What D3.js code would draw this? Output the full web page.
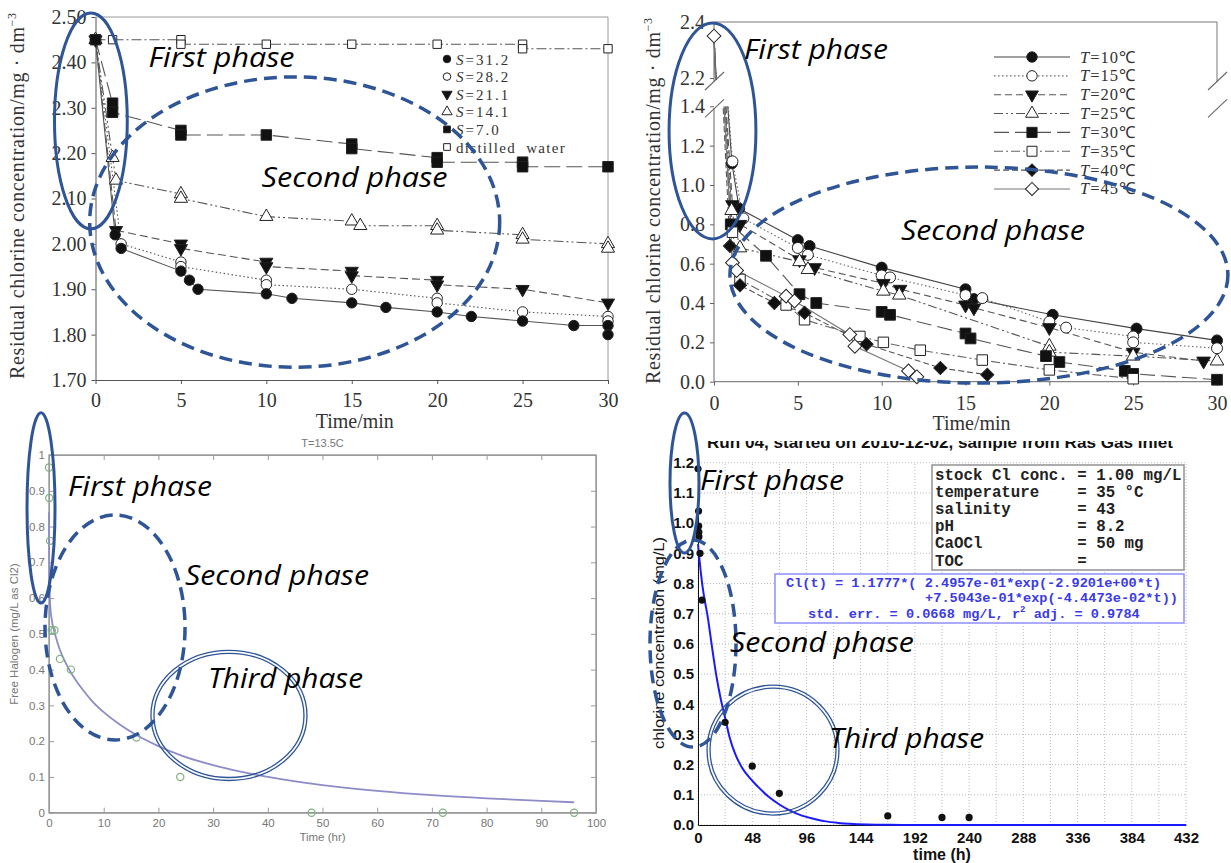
<!DOCTYPE html>
<html lang="en">
<head>
<meta charset="UTF-8">
<title>Chlorine decay phases</title>
<script src="https://cdn.jsdelivr.net/npm/d3@7"></script>
<style>
  body { margin: 0; background: #fff; }
  svg { display: block; }
</style>
</head>
<body>
<svg id="chart" width="1231" height="863"></svg>
<script>
// ---------- Panel A: effect of salinity (time in min, mg/dm3) ----------
const aTimeTicks = [0, 5, 10, 15, 20, 25, 30];
const aConcTicks = [1.70, 1.80, 1.90, 2.00, 2.10, 2.20, 2.30, 2.40, 2.50];
const aLegend = ["31.2", "28.2", "21.1", "14.1", "7.0", "distilled  water"];
const s31_2 = [[0,2.45],[1.15,2.02],[1.5,1.99],[5,1.94],[5.5,1.92],[6,1.90],[10,1.89],[11.5,1.88],[15,1.87],[17,1.86],[20,1.85],[22,1.84],[25,1.83],[28,1.82],[30,1.82],[30,1.80]];
const s28_2 = [[0,2.45],[1.5,2.00],[5,1.96],[5,1.95],[10,1.92],[10,1.91],[15,1.90],[20,1.88],[20,1.87],[25,1.85],[30,1.84],[30,1.83]];
const s21_1 = [[0,2.45],[1.2,2.03],[5,2.00],[5,1.99],[10,1.96],[10,1.95],[15,1.94],[15,1.93],[20,1.92],[20,1.91],[25,1.90],[30,1.87]];
const s14_1 = [[0,2.45],[1,2.19],[1.2,2.14],[5,2.11],[5,2.10],[10,2.06],[15,2.05],[15.5,2.04],[20,2.04],[20,2.03],[25,2.02],[25,2.01],[30,2.00],[30,1.99]];
const s7_0 = [[0,2.45],[1,2.31],[1,2.29],[5,2.25],[5,2.24],[10,2.24],[15,2.22],[15,2.21],[20,2.19],[20,2.18],[25,2.18],[25,2.17],[30,2.17]];
const sDistilled = [[0,2.45],[1,2.45],[5,2.45],[5,2.44],[10,2.44],[15,2.44],[20,2.44],[25,2.44],[25,2.43],[30,2.43]];

// ---------- Panel B: effect of temperature ----------
const bTimeTicks = [0, 5, 10, 15, 20, 25, 30];
const bLowTicks = [0, 0.2, 0.4, 0.6, 0.8, 1.0, 1.2, 1.4];
const bHighTicks = [2.2, 2.4];
const bLegend = ["10", "15", "20", "25", "30", "35", "40", "45"];
const bInitialConc = 2.35;
const t10 = [[1.07,1.11],[1.5,0.88],[5,0.72],[5.7,0.69],[10,0.58],[15,0.47],[15.5,0.42],[20.2,0.34],[25.2,0.27],[30,0.21]];
const t15 = [[1.1,1.12],[1.75,0.83],[5,0.68],[5.6,0.645],[10,0.54],[10.5,0.53],[15,0.44],[16,0.425],[20,0.305],[21,0.275],[25,0.23],[25,0.20],[30,0.17]];
const t20 = [[1.1,0.90],[1.55,0.80],[5.1,0.62],[6,0.58],[10.1,0.50],[11.1,0.47],[15,0.39],[15.5,0.375],[20,0.275],[25,0.15],[29.2,0.105]];
const t25 = [[1.05,0.87],[1.55,0.68],[5.1,0.61],[5.6,0.57],[10.1,0.46],[11.05,0.44],[20,0.18],[20,0.15],[25,0.13],[30,0.105]];
const t30 = [[1,0.80],[3.1,0.64],[5.1,0.445],[6.1,0.40],[10,0.355],[10.5,0.34],[15,0.245],[15.3,0.22],[19.8,0.13],[20.6,0.10],[24.5,0.055],[25,0.04],[30,0.01]];
const t35 = [[1.1,0.76],[1.55,0.52],[4.3,0.39],[5.4,0.315],[8.7,0.23],[10.1,0.20],[12.3,0.16],[16,0.11],[20,0.06],[25,0.015]];
const t40 = [[0.95,0.69],[1.55,0.49],[3.6,0.40],[5.4,0.35],[9.1,0.19],[13.5,0.07],[16.3,0.035]];
const t45 = [[1.1,0.605],[1.35,0.565],[4.3,0.435],[4.8,0.41],[8.1,0.24],[8.4,0.18],[11.6,0.055],[12.1,0.025]];

// ---------- Panel C: free halogen, T=13.5C ----------
const cTimeTicks = [0, 10, 20, 30, 40, 50, 60, 70, 80, 90, 100];
const cHaloTicks = [0, 0.1, 0.2, 0.3, 0.4, 0.5, 0.6, 0.7, 0.8, 0.9, 1];
const cTime = [0, 0.05, 0.2, 0.5, 1, 2, 4, 16, 24, 48, 72, 96];
const cHalo = [0.965, 0.88, 0.76, 0.51, 0.51, 0.43, 0.40, 0.21, 0.10, 0, 0, 0];
const cFitTime = [0, 0.03, 0.1, 0.25, 0.5, 1, 1.5, 2, 3, 4, 5, 6, 8, 10, 13, 16, 20, 24, 30, 35, 40, 50, 60, 70, 80, 90, 96];
const cFitHalo = [0.84, 0.72, 0.63, 0.575, 0.54, 0.505, 0.478, 0.455, 0.42, 0.392, 0.368, 0.347, 0.31, 0.281, 0.246, 0.217, 0.186, 0.161, 0.133, 0.115, 0.1, 0.077, 0.061, 0.049, 0.04, 0.033, 0.029];

// ---------- Panel D: chlorine concentration, run 04 ----------
const dTimeTicks = [0, 48, 96, 144, 192, 240, 288, 336, 384, 432];
const dConcTicks = [0, 0.1, 0.2, 0.3, 0.4, 0.5, 0.6, 0.7, 0.8, 0.9, 1.0, 1.1, 1.2];
const dTime = [0, 0.5, 0.6, 0.7, 0.8, 1.8, 3.5, 24, 48, 72, 168, 216, 240];
const dChlor = [1.18, 1.04, 0.99, 0.97, 0.955, 0.90, 0.745, 0.34, 0.195, 0.105, 0.03, 0.025, 0.025];
const dFitTime = [0, 1, 4, 9, 12, 16, 20, 24, 28, 33, 39, 46, 53, 62, 72, 82, 92, 103, 113, 124, 134, 150, 170, 200, 432];
const dFitChlor = [0.93, 0.89, 0.79, 0.68, 0.60, 0.50, 0.42, 0.355, 0.29, 0.235, 0.19, 0.155, 0.127, 0.095, 0.068, 0.047, 0.031, 0.02, 0.012, 0.007, 0.004, 0.0015, 0.0005, 0, 0];
const dInfo = ["stock Cl conc. = 1.00 mg/L", "temperature    = 35 °C", "salinity       = 43", "pH             = 8.2", "CaOCl          = 50 mg", "TOC            ="];

const serif = '"Liberation Serif", "Times New Roman", serif';
const sans = '"Liberation Sans", Arial, sans-serif';
const mono = '"Liberation Mono", "Courier New", monospace';
const phaseFont = '"Open Sans", "Noto Sans", sans-serif';
const annBlue = "#2f5597";

const svg = d3.select("#chart");
const defs = svg.append("defs");

// marker shapes
function symbolPath(shape, size) {
  const types = { circle: d3.symbolCircle, square: d3.symbolSquare, diamond: d3.symbolSquare,
                  triangle: d3.symbolTriangle, triangleDown: d3.symbolTriangle };
  return d3.symbol().type(types[shape]).size(size)();
}
function rot(shape) { return shape === "triangleDown" ? 180 : shape === "diamond" ? 45 : 0; }

function drawMarkers(g, pts, x, y, st, size) {
  g.append("g").selectAll("path").data(pts).join("path")
    .attr("d", symbolPath(st.shape, size || st.size))
    .attr("transform", d => `translate(${x(d[0])},${y(d[1])}) rotate(${rot(st.shape)})`)
    .attr("fill", st.filled ? "#111" : "#fff")
    .attr("stroke", "#222").attr("stroke-width", 1);
}

function styleAxis(ax, font, size, textColor, lineColor) {
  ax.selectAll("text").attr("font-family", font).attr("font-size", size).attr("fill", textColor);
  ax.selectAll("line").attr("stroke", lineColor);
  ax.select(".domain").attr("stroke", lineColor);
}

// phase annotations, placed in each panel's data space
function phaseEllipse(g, x, y, cx, cy, rx, ry, kind) {
  const px = x(cx), py = y(cy);
  const prx = Math.abs(x(cx + rx) - px), pry = Math.abs(y(cy + ry) - py);
  if (kind === "double") {
    [0, 3].forEach(o => g.append("ellipse").attr("cx", px).attr("cy", py)
      .attr("rx", prx - o).attr("ry", pry - o)
      .attr("fill", "none").attr("stroke", annBlue).attr("stroke-width", 1.3));
    return;
  }
  g.append("ellipse").attr("cx", px).attr("cy", py).attr("rx", prx).attr("ry", pry)
    .attr("fill", "none").attr("stroke", annBlue)
    .attr("stroke-width", kind === "dashed" ? 3.5 : 3)
    .attr("stroke-dasharray", kind === "dashed" ? "13,7" : null);
}
function phaseText(g, x, y, tx, ty, label, width) {
  g.append("text").attr("x", x(tx)).attr("y", y(ty))
    .attr("font-family", phaseFont).attr("font-style", "italic").attr("font-size", 27)
    .attr("textLength", width).attr("lengthAdjust", "spacingAndGlyphs")
    .text(label);
}

// ======================= Panel A =======================
const xA = d3.scaleLinear([0, 30], [95.5, 608]);
const yA = d3.scaleLinear([1.7, 2.5], [380, 17]);
const gA = svg.append("g");

gA.append("path").attr("d", `M${xA(0)},${yA(2.5)}H${xA(30)}V${yA(1.7)}`)
  .attr("fill", "none").attr("stroke", "#9a9a9a");
const axAx = gA.append("g").attr("transform", `translate(0,${yA(1.7)})`)
  .call(d3.axisBottom(xA).tickValues(aTimeTicks).tickSize(4).tickSizeOuter(0).tickPadding(9));
styleAxis(axAx, serif, 20, "#333", "#555");
const axAy = gA.append("g").attr("transform", `translate(${xA(0)},0)`)
  .call(d3.axisLeft(yA).tickValues(aConcTicks).tickFormat(d3.format(".2f")).tickSize(4).tickSizeOuter(0).tickPadding(5));
styleAxis(axAy, serif, 20, "#333", "#555");

gA.append("text").attr("x", (xA(0) + xA(30)) / 2 + 3).attr("y", 428).attr("text-anchor", "middle")
  .attr("font-family", serif).attr("font-size", 20).attr("fill", "#333").text("Time/min");
const labA = gA.append("text").attr("transform", "translate(24,196) rotate(-90)")
  .attr("text-anchor", "middle").attr("font-family", serif).attr("font-size", 20).attr("fill", "#333")
  .attr("textLength", 366).attr("lengthAdjust", "spacing");
labA.append("tspan").text("Residual  chlorine  concentration/mg · dm");
labA.append("tspan").attr("font-size", 12).attr("dy", -8).text("−3");

const aSeries = [s31_2, s28_2, s21_1, s14_1, s7_0, sDistilled];
const aStyles = [
  { shape: "circle", filled: true, size: 85, dash: null },
  { shape: "circle", filled: false, size: 85, dash: "1.5,2.5" },
  { shape: "triangleDown", filled: true, size: 75, dash: "8,4" },
  { shape: "triangle", filled: false, size: 75, dash: "10,3,2,3,2,3" },
  { shape: "square", filled: true, size: 110, dash: "16,6" },
  { shape: "square", filled: false, size: 70, dash: "10,3,2,3" }
];
const lineA = d3.line().x(d => xA(d[0])).y(d => yA(d[1]));
aSeries.forEach((s, i) => {
  gA.append("path").attr("d", lineA(s)).attr("fill", "none")
    .attr("stroke", "#555").attr("stroke-width", 1.1).attr("stroke-dasharray", aStyles[i].dash);
});
[5, 3, 2, 1, 0, 4].forEach(i => drawMarkers(gA, aSeries[i], xA, yA, aStyles[i]));

// legend A
aLegend.forEach((name, i) => {
  const ly = 59 + i * 17.6;
  drawMarkers(gA, [[0, 0]], v => 447, v => ly, aStyles[i], 45);
  const t = gA.append("text").attr("x", 456).attr("y", ly + 5.5)
    .attr("font-family", serif).attr("font-size", 15).attr("fill", "#333").attr("letter-spacing", 2);
  if (i < 5) {
    t.append("tspan").attr("font-style", "italic").text("S");
    t.append("tspan").text("=" + name);
  } else {
    t.attr("xml:space", "preserve").style("white-space", "pre").attr("letter-spacing", 1.3).text(name);
  }
});

// ======================= Panel B =======================
const xB = d3.scaleLinear([0, 30], [714, 1217]);
const yBlow = d3.scaleLinear([0, 1.4], [381.7, 106.3]);
const yBhigh = d3.scaleLinear([2.2, 2.4], [78, 22]);
const gB = svg.append("g");

defs.append("clipPath").attr("id", "clipLow").append("rect")
  .attr("x", xB(0)).attr("y", yBlow(1.4)).attr("width", 520).attr("height", yBlow(0) - yBlow(1.4) + 8);
defs.append("clipPath").attr("id", "clipHigh").append("rect")
  .attr("x", xB(0) - 2).attr("y", yBhigh(2.4) - 6).attr("width", 520).attr("height", yBhigh(2.2) - yBhigh(2.4) + 8);

const breakHigh = yBhigh(2.2) + 3, breakLow = yBlow(1.4) + 2;
// frame: top line, right line down to the break, left axis in two parts
gB.append("path").attr("d", `M${xB(0)},${yBhigh(2.4)}H${xB(30)}V${breakHigh}`)
  .attr("fill", "none").attr("stroke", "#777");
gB.append("path").attr("d", `M${xB(0)},${yBhigh(2.4)}V${breakHigh}M${xB(0)},${breakLow}V${yBlow(0)}H${xB(30)}`)
  .attr("fill", "none").attr("stroke", "#666");
[xB(0), xB(30)].forEach(bx => [breakHigh, breakLow].forEach(by => {
  gB.append("line").attr("x1", bx - 9).attr("y1", by + 9).attr("x2", bx + 10).attr("y2", by - 9)
    .attr("stroke", "#666").attr("stroke-width", 1.1);
}));

const axBx = gB.append("g").attr("transform", `translate(0,${yBlow(0)})`)
  .call(d3.axisBottom(xB).tickValues(bTimeTicks).tickSize(4).tickSizeOuter(0).tickPadding(10));
styleAxis(axBx, serif, 20, "#333", "#666");
axBx.select(".domain").remove();
const axBy = gB.append("g").attr("transform", `translate(${xB(0)},0)`)
  .call(d3.axisLeft(yBlow).tickValues(bLowTicks).tickFormat(d3.format(".1f")).tickSize(4).tickSizeOuter(0).tickPadding(5));
styleAxis(axBy, serif, 20, "#333", "#666");
axBy.select(".domain").remove();
const axBy2 = gB.append("g").attr("transform", `translate(${xB(0)},0)`)
  .call(d3.axisLeft(yBhigh).tickValues(bHighTicks).tickFormat(d3.format(".1f")).tickSize(4).tickSizeOuter(0).tickPadding(5));
styleAxis(axBy2, serif, 20, "#333", "#666");
axBy2.select(".domain").remove();

gB.append("text").attr("x", (xB(0) + xB(30)) / 2 + 6).attr("y", 430).attr("text-anchor", "middle")
  .attr("font-family", serif).attr("font-size", 20).attr("fill", "#333").text("Time/min");
const labB = gB.append("text").attr("transform", "translate(660,201) rotate(-90)")
  .attr("text-anchor", "middle").attr("font-family", serif).attr("font-size", 20).attr("fill", "#333")
  .attr("textLength", 366).attr("lengthAdjust", "spacing");
labB.append("tspan").text("Residual  chlorine  concentration/mg · dm");
labB.append("tspan").attr("font-size", 12).attr("dy", -8).text("−3");

const bSeries = [t10, t15, t20, t25, t30, t35, t40, t45];
const bStyles = [
  { shape: "circle", filled: true, size: 95, dash: null, color: "#444" },
  { shape: "circle", filled: false, size: 95, dash: "1.5,2.5", color: "#666" },
  { shape: "triangleDown", filled: true, size: 80, dash: "7,4", color: "#555" },
  { shape: "triangle", filled: false, size: 80, dash: "9,3,2,3,2,3", color: "#555" },
  { shape: "square", filled: true, size: 115, dash: "15,6", color: "#555" },
  { shape: "square", filled: false, size: 110, dash: "9,3,2,3", color: "#666" },
  { shape: "diamond", filled: true, size: 85, dash: "6,3", color: "#555" },
  { shape: "diamond", filled: false, size: 95, dash: null, color: "#777" }
];
const lineBlow = d3.line().x(d => xB(d[0])).y(d => yBlow(d[1]));
const lineBhigh = d3.line().x(d => xB(d[0])).y(d => yBhigh(d[1]));
bSeries.forEach((s, i) => {
  const full = [[0, bInitialConc]].concat(s);
  [[lineBlow, "clipLow"], [lineBhigh, "clipHigh"]].forEach(([ln, clip]) => {
    gB.append("path").attr("d", ln(full)).attr("clip-path", `url(#${clip})`)
      .attr("fill", "none").attr("stroke", bStyles[i].color).attr("stroke-width", 1.1)
      .attr("stroke-dasharray", bStyles[i].dash);
  });
});
bSeries.forEach((s, i) => drawMarkers(gB, s, xB, yBlow, bStyles[i]));
drawMarkers(gB, [[0, bInitialConc]], xB, yBhigh, bStyles[7]);

// legend B
bLegend.forEach((name, i) => {
  const ly = 57 + i * 18.85;
  gB.append("line").attr("x1", 994).attr("x2", 1070).attr("y1", ly).attr("y2", ly)
    .attr("stroke", bStyles[i].color).attr("stroke-width", 1.1).attr("stroke-dasharray", bStyles[i].dash);
  drawMarkers(gB, [[0, 0]], v => 1032, v => ly, bStyles[i], bStyles[i].size * 0.9);
  const t = gB.append("text").attr("x", 1080).attr("y", ly + 5.5)
    .attr("font-family", serif).attr("font-size", 16.5).attr("fill", "#333").attr("letter-spacing", 1);
  t.append("tspan").attr("font-style", "italic").text("T");
  t.append("tspan").text("=" + name + "℃");
});

// ======================= Panel C =======================
const xC = d3.scaleLinear([0, 100], [49, 596]);
const yC = d3.scaleLinear([0, 1], [812.7, 455]);
const gC = svg.append("g");

gC.append("rect").attr("x", xC(0)).attr("y", yC(1)).attr("width", xC(100) - xC(0)).attr("height", yC(0) - yC(1))
  .attr("fill", "none").attr("stroke", "#9a9a9a").attr("stroke-width", 1.4);
const axCx = gC.append("g").attr("transform", `translate(0,${yC(0)})`)
  .call(d3.axisBottom(xC).tickValues(cTimeTicks).tickSize(-5).tickSizeOuter(0).tickPadding(6));
styleAxis(axCx, sans, 11.5, "#777", "#9a9a9a");
const axCy = gC.append("g").attr("transform", `translate(${xC(0)},0)`)
  .call(d3.axisLeft(yC).tickValues(cHaloTicks).tickFormat(d3.format("~g")).tickSize(-5).tickSizeOuter(0).tickPadding(4));
styleAxis(axCy, sans, 11.5, "#777", "#9a9a9a");
gC.append("g").attr("transform", `translate(0,${yC(1)})`)
  .call(d3.axisTop(xC).tickValues(cTimeTicks).tickSize(-5).tickSizeOuter(0).tickFormat(""))
  .call(a => styleAxis(a, sans, 11, "#777", "#9a9a9a"));
gC.append("g").attr("transform", `translate(${xC(100)},0)`)
  .call(d3.axisRight(yC).tickValues(cHaloTicks).tickSize(-5).tickSizeOuter(0).tickFormat(""))
  .call(a => styleAxis(a, sans, 11, "#777", "#9a9a9a"));

gC.append("text").attr("x", (xC(0) + xC(100)) / 2).attr("y", 447).attr("text-anchor", "middle")
  .attr("font-family", sans).attr("font-size", 11).attr("fill", "#777").text("T=13.5C");
gC.append("text").attr("x", (xC(0) + xC(100)) / 2).attr("y", 841).attr("text-anchor", "middle")
  .attr("font-family", sans).attr("font-size", 11.5).attr("fill", "#777").text("Time (hr)");
gC.append("text").attr("transform", "translate(18,634) rotate(-90)").attr("text-anchor", "middle")
  .attr("font-family", sans).attr("font-size", 11.5).attr("fill", "#777").text("Free Halogen (mg/L as Cl2)");

const lineC = d3.line().x((d, i) => xC(cFitTime[i])).y(d => yC(d)).curve(d3.curveMonotoneX);
gC.append("path").attr("d", lineC(cFitHalo)).attr("fill", "none")
  .attr("stroke", "#8c8cc8").attr("stroke-width", 1.8);
gC.append("g").selectAll("circle").data(cTime).join("circle")
  .attr("cx", d => xC(d)).attr("cy", (d, i) => yC(cHalo[i])).attr("r", 3.6)
  .attr("fill", "none").attr("stroke", "#7fb07f").attr("stroke-width", 1.2);

// ======================= Panel D =======================
const xD = d3.scaleLinear([0, 432], [698, 1186]);
const yD = d3.scaleLinear([0, 1.2], [825, 462.7]);
const gD = svg.append("g");

// dotted grid
gD.append("g").selectAll("line").data(d3.range(0, 433, 24)).join("line")
  .attr("x1", d => xD(d)).attr("x2", d => xD(d)).attr("y1", yD(0)).attr("y2", yD(1.2))
  .attr("stroke", "#bbb").attr("stroke-dasharray", "1,2");
gD.append("g").selectAll("line").data(dConcTicks).join("line")
  .attr("x1", xD(0)).attr("x2", xD(432)).attr("y1", d => yD(d)).attr("y2", d => yD(d))
  .attr("stroke", "#bbb").attr("stroke-dasharray", "1,2");

const axDx = gD.append("g").attr("transform", `translate(0,${yD(0)})`)
  .call(d3.axisBottom(xD).tickValues(dTimeTicks).tickSize(0).tickPadding(7));
styleAxis(axDx, sans, 15, "#111", "#111");
axDx.selectAll("text").attr("font-weight", "bold");
const axDy = gD.append("g").attr("transform", `translate(${xD(0)},0)`)
  .call(d3.axisLeft(yD).tickValues(dConcTicks).tickFormat(d3.format(".1f")).tickSize(0).tickPadding(4));
styleAxis(axDy, sans, 15, "#111", "#111");
axDy.selectAll("text").attr("font-weight", "bold");

gD.append("text").attr("x", (xD(0) + xD(432)) / 2).attr("y", 860).attr("text-anchor", "middle")
  .attr("font-family", sans).attr("font-size", 16).attr("font-weight", "bold").attr("fill", "#111").text("time (h)");
gD.append("text").attr("transform", "translate(664,643) rotate(-90)").attr("text-anchor", "middle")
  .attr("font-family", sans).attr("font-size", 15.5).attr("fill", "#111")
  .attr("textLength", 212).attr("lengthAdjust", "spacingAndGlyphs").text("chlorine concentration (mg/L)");

// title, cut off at the top as in the source figure
defs.append("clipPath").attr("id", "clipTitle").append("rect")
  .attr("x", 690).attr("y", 441).attr("width", 520).attr("height", 12);
gD.append("text").attr("x", 707).attr("y", 447.5).attr("clip-path", "url(#clipTitle)")
  .attr("font-family", sans).attr("font-size", 16).attr("font-weight", "bold").attr("fill", "#111")
  .attr("textLength", 466).attr("lengthAdjust", "spacingAndGlyphs")
  .text("Run 04, started on 2010-12-02, sample from Ras Gas inlet");

const lineD = d3.line().x((d, i) => xD(dFitTime[i])).y(d => yD(d)).curve(d3.curveMonotoneX);
gD.append("path").attr("d", lineD(dFitChlor)).attr("fill", "none")
  .attr("stroke", "#1a1aff").attr("stroke-width", 2);
gD.append("g").selectAll("circle").data(dTime).join("circle")
  .attr("cx", d => xD(d)).attr("cy", (d, i) => yD(dChlor[i])).attr("r", 3.6).attr("fill", "#111");

// info box
gD.append("rect").attr("x", 932).attr("y", 465).attr("width", 252).attr("height", 105)
  .attr("fill", "#fff").attr("stroke", "#999").attr("stroke-width", 1.6);
dInfo.forEach((ln, i) => {
  gD.append("text").attr("x", 935).attr("y", 479.5 + i * 17.2)
    .attr("font-family", mono).attr("font-size", 15.8).attr("font-weight", "bold").attr("fill", "#222")
    .attr("xml:space", "preserve").style("white-space", "pre").text(ln);
});
// fit formula box
gD.append("rect").attr("x", 775).attr("y", 574).attr("width", 409).attr("height", 49)
  .attr("fill", "#fff").attr("stroke", "#8f8fff").attr("stroke-width", 1.5);
const fBlue = "#3a3ae6";
gD.append("text").attr("x", 786).attr("y", 587).attr("font-family", mono).attr("font-size", 13.6)
  .attr("font-weight", "bold").attr("fill", fBlue).style("white-space", "pre")
  .text("Cl(t) = 1.1777*( 2.4957e-01*exp(-2.9201e+00*t)");
gD.append("text").attr("x", 1178).attr("y", 602).attr("text-anchor", "end").attr("font-family", mono)
  .attr("font-size", 13.6).attr("font-weight", "bold").attr("fill", fBlue)
  .text("+7.5043e-01*exp(-4.4473e-02*t))");
const f3 = gD.append("text").attr("x", 808).attr("y", 617.5).attr("font-family", mono).attr("font-size", 13.6)
  .attr("font-weight", "bold").attr("fill", fBlue).style("white-space", "pre");
f3.append("tspan").text("std. err. = 0.0668 mg/L, r");
f3.append("tspan").attr("font-size", 9).attr("dy", -6).text("2");
f3.append("tspan").attr("dy", 6).text(" adj. = 0.9784");

// ======================= Phase annotations =======================
const gN = svg.append("g");
phaseEllipse(gN, xA, yA, -0.27, 2.271, 2.13, 0.238, "solid");
phaseEllipse(gN, xA, yA, 11.66, 2.048, 12.0, 0.32, "dashed");
phaseText(gN, xA, yA, 3.1, 2.39, "First phase", 146);
phaseText(gN, xA, yA, 9.72, 2.125, "Second phase", 186);

phaseEllipse(gN, xB, yBlow, -0.09, 1.275, 2.59, 0.549, "solid");
phaseEllipse(gN, xB, yBlow, 15.8, 0.542, 14.85, 0.549, "dashed");
phaseText(gN, xB, yBlow, 1.79, 1.639, "First phase", 144);
phaseText(gN, xB, yBlow, 11.15, 0.72, "Second phase", 184);

phaseEllipse(gN, xC, yC, -1.46, 0.852, 2.56, 0.266, "solid");
phaseEllipse(gN, xC, yC, 12.07, 0.518, 12.8, 0.3145, "dashed");
phaseEllipse(gN, xC, yC, 32.9, 0.272, 14.26, 0.182, "double");
phaseText(gN, xC, yC, 3.47, 0.885, "First phase", 144);
phaseText(gN, xC, yC, 24.86, 0.637, "Second phase", 184);
phaseText(gN, xC, yC, 29.07, 0.349, "Third phase", 155);

phaseEllipse(gN, xD, yD, -11.95, 1.133, 12.84, 0.232, "solid");
phaseEllipse(gN, xD, yD, -4.43, 0.601, 38.07, 0.343, "dashed");
phaseEllipse(gN, xD, yD, 66.4, 0.248, 58.4, 0.215, "double");
phaseText(gN, xD, yD, 1.77, 1.11, "First phase", 144);
phaseText(gN, xD, yD, 28.3, 0.572, "Second phase", 184);
phaseText(gN, xD, yD, 116, 0.255, "Third phase", 155);
</script>
</body>
</html>
